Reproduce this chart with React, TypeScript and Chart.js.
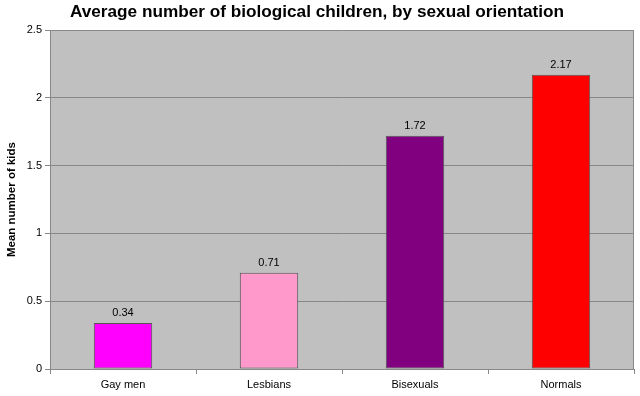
import React, { useEffect, useRef } from "react";
import { Chart, registerables } from "chart.js";

Chart.register(...registerables);

const categories = ["Gay men", "Lesbians", "Bisexuals", "Normals"];
const values = [0.34, 0.71, 1.72, 2.17];
const barColors = ["#FF00FF", "#FF99CC", "#800080", "#FF0000"];
const yTicks = [0, 0.5, 1, 1.5, 2, 2.5];

const FONT = "'Liberation Sans', Arial, sans-serif";

const bgPlugin = {
  id: "plotBg",
  beforeDraw(chart: any) {
    const { ctx, chartArea } = chart;
    ctx.save();
    ctx.fillStyle = "#ffffff";
    ctx.fillRect(0, 0, chart.width, chart.height);
    ctx.fillStyle = "#C0C0C0";
    ctx.fillRect(chartArea.left, chartArea.top, chartArea.right - chartArea.left, chartArea.bottom - chartArea.top);
    ctx.restore();
  },
  afterDraw(chart: any) {
    const { ctx, chartArea } = chart;
    ctx.save();
    ctx.strokeStyle = "#888888";
    ctx.lineWidth = 1;
    ctx.beginPath();
    const x = Math.round(chartArea.right) - 0.5;
    ctx.moveTo(x, chartArea.top);
    ctx.lineTo(x, chartArea.bottom);
    ctx.stroke();
    ctx.restore();
  },
};

const labelPlugin = {
  id: "valueLabels",
  afterDatasetsDraw(chart: any) {
    const { ctx } = chart;
    const meta = chart.getDatasetMeta(0);
    ctx.save();
    ctx.font = `11px ${FONT}`;
    ctx.fillStyle = "#000000";
    ctx.textAlign = "center";
    ctx.textBaseline = "bottom";
    meta.data.forEach((el: any, i: number) => {
      ctx.fillText(values[i].toFixed(2), el.x, el.y - 4);
    });
    ctx.restore();
  },
};

export default function App() {
  const ref = useRef<HTMLCanvasElement | null>(null);
  useEffect(() => {
    if (!ref.current) return;
    const chart = new Chart(ref.current, {
      type: "bar",
      data: {
        labels: categories,
        datasets: [
          {
            data: values,
            backgroundColor: barColors,
            borderColor: "#555555",
            borderWidth: 1,
            borderSkipped: false,
            barPercentage: 0.4,
            categoryPercentage: 1,
          },
        ],
      },
      options: {
        responsive: false,
        animation: false,
        layout: { padding: { left: 0, right: 6, top: 0, bottom: 0 } },
        plugins: {
          legend: { display: false },
          tooltip: { enabled: false },
          title: {
            display: true,
            text: "Average number of biological children, by sexual orientation",
            color: "#000000",
            font: { family: FONT, size: 17.2, weight: "bold", lineHeight: 1.2 },
            padding: { top: 2, bottom: 7.4 },
          },
        },
        scales: {
          x: {
            offset: true,
            grid: {
              offset: true,
              drawOnChartArea: false,
              drawTicks: true,
              tickLength: 5,
              tickColor: "#888888",
            },
            border: { display: true, color: "#888888" },
            ticks: {
              color: "#000000",
              font: { family: FONT, size: 11 },
              padding: 4,
            },
            afterFit(scale: any) {
              scale.height = 27;
            },
          },
          y: {
            min: 0,
            max: 2.5,
            afterBuildTicks(scale: any) {
              scale.ticks = yTicks.map((v) => ({ value: v }));
            },
            ticks: {
              color: "#000000",
              font: { family: FONT, size: 11 },
              padding: 3,
              callback: (v: any) => String(v),
            },
            grid: {
              color: "#888888",
              tickColor: "#888888",
              tickLength: 5,
            },
            border: { display: true, color: "#888888" },
            title: {
              display: true,
              text: "Mean number of kids",
              color: "#000000",
              font: { family: FONT, size: 11.5, weight: "bold" },
              padding: { top: 5, bottom: 0 },
            },
            afterFit(scale: any) {
              scale.width = 50;
            },
          },
        },
      },
      plugins: [bgPlugin, labelPlugin],
    });
    return () => chart.destroy();
  }, []);
  return (
    <div style={{ position: "absolute", left: 0, top: 0, width: 640, height: 396 }}>
      <canvas ref={ref} width={640} height={396} style={{ display: "block" }} />
    </div>
  );
}
